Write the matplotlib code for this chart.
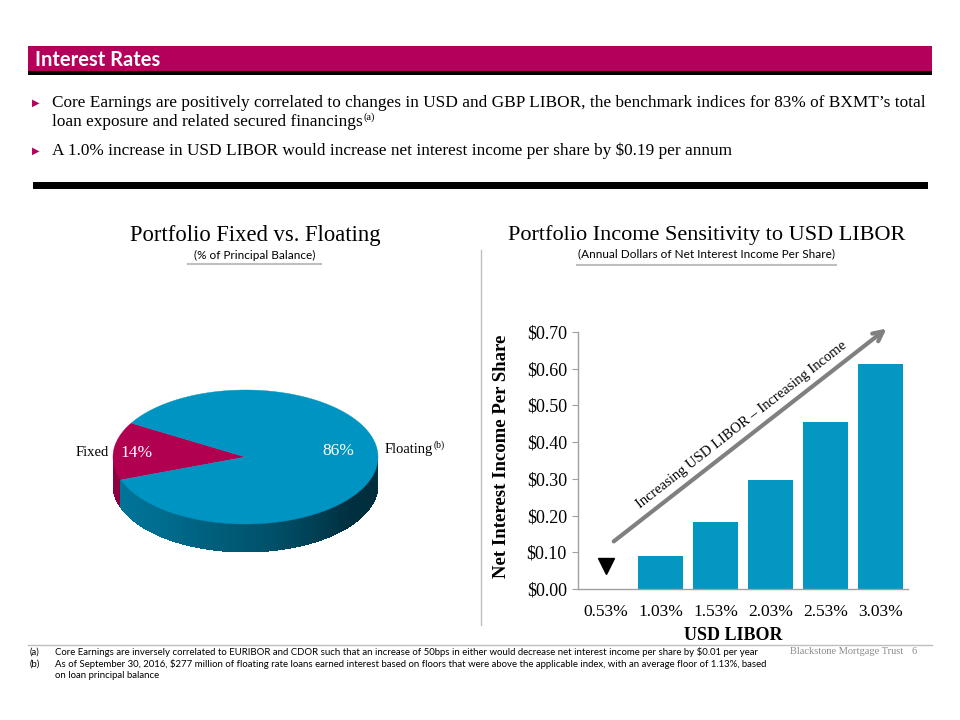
import matplotlib
matplotlib.use("Agg")
import matplotlib.pyplot as plt
import numpy as np
from matplotlib.patches import Polygon, Rectangle

# ---------------- data ----------------
header_title = "Interest Rates"
bullet_1_lines = ["Core Earnings are positively correlated to changes in USD and GBP LIBOR, the benchmark indices for 83% of BXMT\u2019s total",
                  "loan exposure and related secured financings"]
bullet_2 = "A 1.0% increase in USD LIBOR would increase net interest income per share by $0.19 per annum"

pie_title = "Portfolio Fixed vs. Floating"
pie_subtitle = "(% of Principal Balance)"
pie_labels = ["Fixed", "Floating"]
pie_shares = [14, 86]

bar_title = "Portfolio Income Sensitivity to USD LIBOR"
bar_subtitle = "(Annual Dollars of Net Interest Income Per Share)"
libor_levels = ["0.53%", "1.03%", "1.53%", "2.03%", "2.53%", "3.03%"]
nii_per_share = [0.00, 0.09, 0.183, 0.298, 0.456, 0.612]
current_level_marker = 0.062
y_ticks = [0.0, 0.1, 0.2, 0.3, 0.4, 0.5, 0.6, 0.7]
y_tick_labels = ["$0.00", "$0.10", "$0.20", "$0.30", "$0.40", "$0.50", "$0.60", "$0.70"]
arrow_text = "Increasing USD LIBOR \u2013 Increasing Income"
y_label = "Net Interest Income Per Share"
x_label = "USD LIBOR"

footnotes = [
    ("(a)", "Core Earnings are inversely correlated to EURIBOR and CDOR such that an increase of 50bps in either would decrease net interest income per share by $0.01 per year"),
    ("(b)", "As of September 30, 2016, $277 million of floating rate loans earned interest based on floors that were above the applicable index, with an average floor of 1.13%, based"),
    ("", "on loan principal balance"),
]
brand = "Blackstone Mortgage Trust"
page_no = "6"

# ---------------- style ----------------
MAGENTA = "#B5005B"
BLUE = (0.0, 0.58, 0.76)
PIE_MAG = (0.69, 0.0, 0.31)
SERIF = ["Liberation Serif", "DejaVu Serif"]
SANS = ["Lato", "DejaVu Sans"]
GRAY_LINE = "#BFBFBF"

fig = plt.figure(figsize=(9.6, 7.2), dpi=100)
bg = fig.add_axes([0, 0, 1, 1])
bg.set_xlim(0, 960)
bg.set_ylim(720, 0)
bg.axis("off")

# header band
bg.add_patch(Rectangle((28, 46), 904, 25, color=MAGENTA, lw=0))
bg.add_patch(Rectangle((28, 71), 904, 3.5, color="black", lw=0))
bg.text(35, 59.5, header_title, color="white", fontsize=14.5, fontweight="bold",
        family=SANS, va="center", ha="left")

# bullets
for yy in (103, 151):
    bg.text(32, yy, "\u25B6", color=MAGENTA, fontsize=7, family=["DejaVu Sans"],
            va="center", ha="left")
bfs = 12.4
bg.text(52, 103, bullet_1_lines[0], fontsize=bfs, family=SERIF, va="center", ha="left")
t2 = bg.text(52, 122, bullet_1_lines[1], fontsize=bfs, family=SERIF, va="center", ha="left")
bg.text(52, 151, bullet_2, fontsize=bfs, family=SERIF, va="center", ha="left")

renderer = fig.canvas.get_renderer()
inv = bg.transData.inverted()

def right_end(txt):
    bb = txt.get_window_extent(renderer=renderer)
    x1, _ = inv.transform((bb.x1, bb.y1))
    return x1

bg.text(right_end(t2) + 0.3, 117, "(a)", fontsize=7.5, family=SERIF, va="center", ha="left")

# thick black separator
bg.add_patch(Rectangle((33, 182), 895, 7, color="black", lw=0))

# section titles
bg.text(255.5, 235, pie_title, fontsize=16.3, family=SERIF, ha="center", va="center")
bg.text(255, 255, pie_subtitle, fontsize=8.5, family=SANS, ha="center", va="center")
bg.plot([188, 321], [264, 264], color=GRAY_LINE, lw=1.5)

bg.text(707, 235, bar_title, fontsize=16, family=SERIF, ha="center", va="center")
bg.text(707, 254, bar_subtitle, fontsize=8.5, family=SANS, ha="center", va="center")
bg.plot([577, 836], [265, 265], color=GRAY_LINE, lw=1.5)

# vertical divider
bg.plot([481, 481], [250, 625], color=GRAY_LINE, lw=1)

# ---------------- 3D pie ----------------
cx, cy, a, b, depth = 245.5, 457, 132.5, 67, 28
start_angle = 149.6

def pt(t_deg, dz=0.0):
    t = np.radians(t_deg)
    return cx + a * np.cos(t), cy - b * np.sin(t) + dz

def side_shade(t):
    tt = t % 360
    return np.interp(tt, [180, 230, 280, 320, 350, 360], [0.82, 0.74, 0.55, 0.33, 0.30, 0.36])

shares = np.array(pie_shares, dtype=float)
bounds = start_angle + 360 * np.concatenate([[0], np.cumsum(shares) / shares.sum()])
colors = [PIE_MAG, BLUE]

# sides (visible front half: 180..360 deg)
for i in range(len(shares)):
    t1, t2_ = bounds[i], bounds[i + 1]
    for lo, hi in [(180, 360), (540, 720)]:
        s, e = max(t1, lo), min(t2_, hi)
        if e <= s:
            continue
        n = max(int((e - s) / 1.5), 1)
        edges = np.linspace(s, e, n + 1)
        for k in range(n):
            ts = np.linspace(edges[k], min(edges[k + 1] + 0.6, e), 4)
            top = [pt(t) for t in ts]
            bot = [pt(t, depth) for t in ts[::-1]]
            f = side_shade(0.5 * (edges[k] + edges[k + 1]))
            if i == 0:
                f = 0.8
            col = tuple(min(1, c * f) for c in colors[i])
            bg.add_patch(Polygon(top + bot, closed=True, facecolor=col, edgecolor="none",
                                 lw=0, antialiased=False))

# tops
for i in range(len(shares)):
    ts = np.linspace(bounds[i], bounds[i + 1], 200)
    poly = [(cx, cy)] + [pt(t) for t in ts]
    bg.add_patch(Polygon(poly, closed=True, facecolor=colors[i], edgecolor=colors[i], lw=0.3))

# pie labels
bg.text(92, 453, pie_labels[0], fontsize=10.5, family=SERIF, ha="center", va="center")
bg.text(137, 453, f"{pie_shares[0]}%", fontsize=12.5, family=SERIF, color="white",
        ha="center", va="center")
bg.text(338, 451, f"{pie_shares[1]}%", fontsize=12.5, family=SERIF, color="white",
        ha="center", va="center")
fl = bg.text(385, 450, pie_labels[1], fontsize=10.5, family=SERIF, ha="left", va="center")
bg.text(right_end(fl) + 0.3, 445, "(b)", fontsize=7, family=SERIF, ha="left", va="center")

# ---------------- bar chart ----------------
ax = fig.add_axes([578 / 960, 1 - 589 / 720, 330 / 960, 257 / 720])
ax.patch.set_alpha(0)
x = np.arange(len(libor_levels))
ax.bar(x, nii_per_share, width=0.83, color="#0397C2", zorder=2)
ax.plot(x[0], current_level_marker, marker="v", color="black", ms=11, ls="none", zorder=3)
ax.set_xlim(-0.5, len(libor_levels) - 0.5)
ax.set_ylim(0, 0.7)
ax.set_yticks(y_ticks)
ax.set_yticklabels(y_tick_labels, family=SERIF, fontsize=13)
ax.set_xticks(x)
ax.set_xticklabels(libor_levels, family=SERIF, fontsize=12.5)
ax.tick_params(axis="y", length=4, color="#A0A0A0", pad=4)
ax.tick_params(axis="x", length=0, pad=11)
for sp in ("top", "right"):
    ax.spines[sp].set_visible(False)
for sp in ("left", "bottom"):
    ax.spines[sp].set_color("#A0A0A0")
    ax.spines[sp].set_linewidth(1)

ax.annotate("", xy=(5.15, 0.714), xytext=(0.11, 0.125), xycoords="data",
            arrowprops=dict(arrowstyle="->,head_length=0.7,head_width=0.35",
                            color="#808080", lw=3), annotation_clip=False)
bg.text(742, 425, arrow_text, fontsize=10.5, family=SERIF, rotation=38,
        rotation_mode="anchor", ha="center", va="center")

bg.text(502, 456, y_label, fontsize=13.5, fontweight="bold", family=SERIF,
        rotation=90, ha="center", va="center")
bg.text(733, 636, x_label, fontsize=13, fontweight="bold", family=SERIF,
        ha="center", va="center")

# ---------------- footer ----------------
bg.plot([28, 932], [645, 645], color=GRAY_LINE, lw=1)
fy = [652, 664, 676]
for (tag, txt), yy in zip(footnotes, fy):
    if tag:
        bg.text(30, yy, tag, fontsize=6.9, family=SANS, ha="left", va="center")
    bg.text(55, yy, txt, fontsize=6.9, family=SANS, ha="left", va="center")
bg.text(790, 652, brand, fontsize=7.5, family=SERIF, color="#8C8C8C", ha="left", va="center")
bg.text(917, 652, page_no, fontsize=7.5, family=SERIF, color="#8C8C8C", ha="right", va="center")

fig.savefig("out.png", dpi=100)
